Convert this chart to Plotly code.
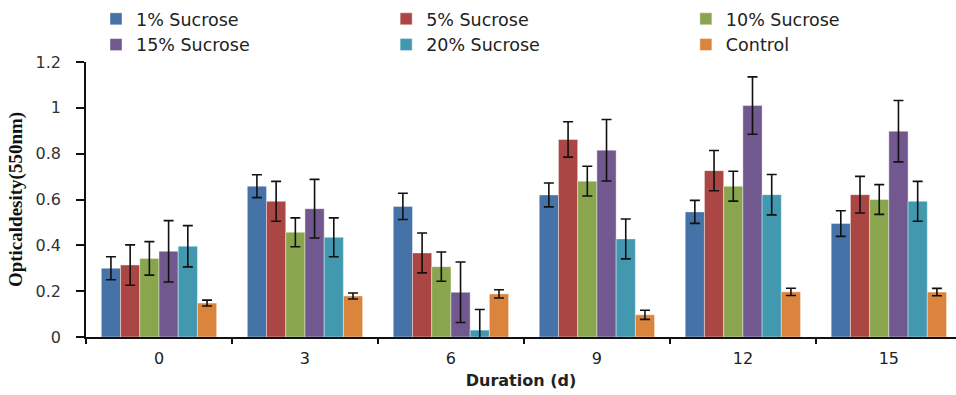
import plotly.graph_objects as go

days = ["0", "3", "6", "9", "12", "15"]
series_names = ["1% Sucrose", "5% Sucrose", "10% Sucrose", "15% Sucrose", "20% Sucrose", "Control"]

s1 = [0.30, 0.658, 0.57, 0.62, 0.546, 0.495]
s5 = [0.314, 0.592, 0.367, 0.862, 0.726, 0.621]
s10 = [0.343, 0.457, 0.307, 0.68, 0.658, 0.60]
s15 = [0.374, 0.56, 0.195, 0.815, 1.01, 0.898]
s20 = [0.396, 0.435, 0.03, 0.428, 0.621, 0.592]
ctrl = [0.148, 0.179, 0.188, 0.097, 0.197, 0.196]

e1 = [0.05, 0.05, 0.057, 0.052, 0.05, 0.056]
e5 = [0.088, 0.087, 0.087, 0.077, 0.088, 0.08]
e10 = [0.073, 0.063, 0.064, 0.065, 0.065, 0.065]
e15 = [0.134, 0.128, 0.132, 0.134, 0.125, 0.134]
e20 = [0.09, 0.085, 0.09, 0.087, 0.088, 0.087]
ectrl = [0.013, 0.013, 0.018, 0.02, 0.016, 0.016]

values = [s1, s5, s10, s15, s20, ctrl]
errors = [e1, e5, e10, e15, e20, ectrl]
colors = ["#4572A7", "#AA4643", "#89A54E", "#71588F", "#4198AF", "#DB843D"]
legend_ids = ["legend", "legend2", "legend3", "legend", "legend2", "legend3"]

fig = go.Figure()
for name, v, e, c, lg in zip(series_names, values, errors, colors, legend_ids):
    fig.add_trace(go.Bar(
        x=days, y=v, name=name, legend=lg,
        marker=dict(color=c, line=dict(color="rgba(255,255,255,0.5)", width=0.8)),
        error_y=dict(type="data", array=e, visible=True, color="#111111",
                     thickness=1.6, width=5),
    ))

legend_font = dict(family="DejaVu Sans", size=17.5, color="#222222")
common_leg = dict(orientation="v", yanchor="top", xanchor="left",
                  font=legend_font, bgcolor="rgba(0,0,0,0)", tracegroupgap=0,
                  itemwidth=30)
fig.update_layout(
    width=956, height=395,
    margin=dict(l=86, r=0, t=62, b=58),
    plot_bgcolor="white", paper_bgcolor="white",
    barmode="group", bargap=0.21, bargroupgap=0,
    font=dict(family="DejaVu Sans", size=15, color="#222222"),
    legend=dict(x=0.0115, y=1.222, **common_leg),
    legend2=dict(x=0.345, y=1.222, **common_leg),
    legend3=dict(x=0.6895, y=1.222, **common_leg),
    xaxis=dict(
        type="category", range=[-0.5, 5.46],
        showline=True, linecolor="#111111", linewidth=1.5,
        ticks="outside", tickson="boundaries", ticklen=5, tickwidth=1.5, tickcolor="#111111",
        ticklabelstandoff=6,
        tickfont=dict(family="DejaVu Sans", size=16, color="#222222"),
        title=dict(text="Duration (d)", font=dict(family="DejaVu Sans", size=16, color="#222222", weight="bold"), standoff=8),
    ),
    yaxis=dict(
        range=[0, 1.2], dtick=0.2, showgrid=False, zeroline=False,
        showline=True, linecolor="#111111", linewidth=1.5,
        ticks="outside", ticklen=8, tickwidth=1.5, tickcolor="#111111",
        ticklabelstandoff=12,
        tickfont=dict(family="DejaVu Sans", size=16, color="#333333"),
        title=dict(text="Opticaldesity(550nm)", font=dict(family="Liberation Serif", size=19, color="#111111", weight="bold"), standoff=8),
    ),
)

fig.write_html("out.html")
